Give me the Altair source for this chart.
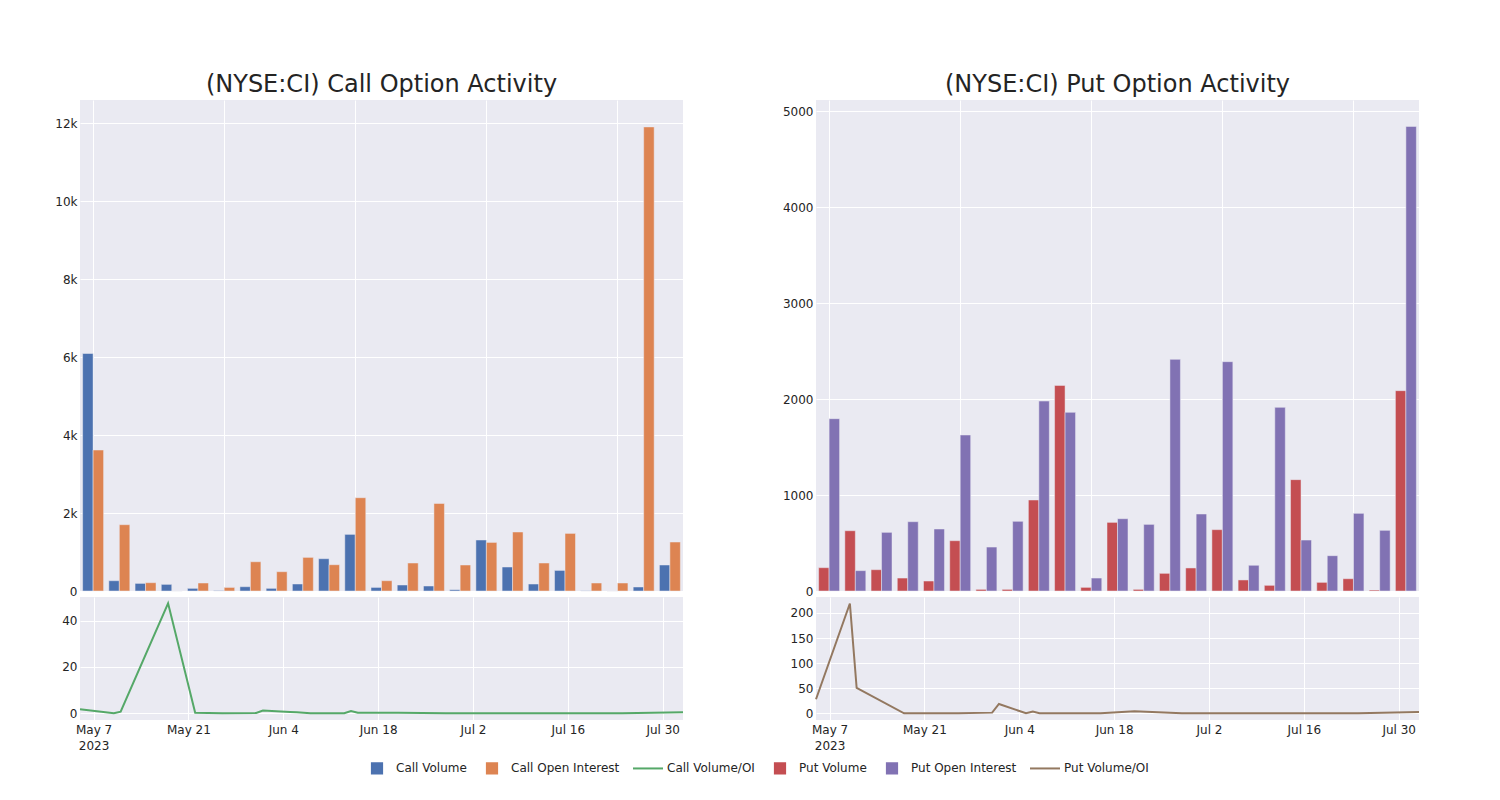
import altair as alt
import pandas as pd

# ---------------- data ----------------
dates = ["2023-05-05", "2023-05-10", "2023-05-11", "2023-05-18", "2023-05-22",
         "2023-05-26", "2023-05-31", "2023-06-01", "2023-06-05", "2023-06-06",
         "2023-06-07", "2023-06-08", "2023-06-13", "2023-06-14", "2023-06-15",
         "2023-06-16", "2023-06-21", "2023-06-28", "2023-07-06", "2023-07-13",
         "2023-07-19", "2023-07-24", "2023-08-02"]

call_volume = [6090, 264, 195, 170, 68, 10, 110, 68, 180, 828, 1452, 92,
               154, 128, 33, 1308, 615, 179, 528, 5, 0, 103, 667]
call_oi = [3615, 1700, 213, 0, 205, 92, 750, 495, 862, 674, 2392, 264,
           718, 2246, 667, 1246, 1513, 718, 1477, 205, 205, 11900, 1256]
put_volume = [243, 628, 222, 135, 104, 524, 17, 17, 948, 2142, 38, 715,
              17, 184, 240, 639, 115, 59, 1160, 90, 128, 10, 2087]
put_oi = [1795, 212, 611, 722, 646, 1625, 458, 726, 1979, 1861, 135, 753,
          694, 2413, 802, 2389, 268, 1913, 531, 368, 809, 632, 4840]
call_ratio = [1.7, 0.0, 0.7, 47.5, 0.2, 0.05, 0.1, 1.15, 0.6, 0.45, 0.2, 0.0,
              0.0, 1.0, 0.2, 0.2, 0.2, 0.0, 0.0, 0.0, 0.0, 0.0, 0.45]
put_ratio = [28, 219, 50.5, 0, 0, 0, 1.3, 18.6, 0, 3.3, 0, 0,
             0, 0, 0, 0, 4, 0, 0, 0, 0, 0, 2.7]

series = ["Call Volume", "Call Open Interest", "Call Volume/OI",
          "Put Volume", "Put Open Interest", "Put Volume/OI"]
colors = ["#4C72B0", "#DD8452", "#55A868", "#C44E52", "#8172B3", "#937860"]
kinds = ["Volume", "Open Interest"]
SQ = "M-0.34,-0.34H0.34V0.34H-0.34Z"
LN = "M-1,-0.34L-1,-0.34M-1,0.34L-1,0.34M-1,0H1"
shapes = [SQ, SQ, LN, SQ, SQ, LN]

tick_dates = ["2023-05-07", "2023-05-21", "2023-06-04", "2023-06-18",
              "2023-07-02", "2023-07-16", "2023-07-30"]


def ms(d):
    return int(pd.Timestamp(d, tz="UTC").timestamp() * 1000)


FONT = "DejaVu Sans"
TXT = "#242424"
BG = "#EAEAF2"
PLOT_W = 603
BAR_H = 491
LINE_H = 123
AX_EXT = 40

# mark colours (reversed order so that this scale's domain differs from the legend scales)
color_scale = alt.Scale(domain=series[::-1], range=colors[::-1])


def bar_panel(title, names, v1, v2, ymax, yticks, ylabel):
    df = pd.DataFrame({
        "date": dates * 2,
        "series": [names[0]] * len(dates) + [names[1]] * len(dates),
        "kind": [kinds[0]] * len(dates) + [kinds[1]] * len(dates),
        "value": v1 + v2,
    })
    return alt.Chart(df, title=alt.Title(title)).mark_bar(
        stroke=BG, strokeWidth=0.5
    ).encode(
        x=alt.X("date:N", sort=dates,
                scale=alt.Scale(paddingInner=0.2, paddingOuter=0.1),
                axis=alt.Axis(values=[dates[i] for i in (0, 5, 10, 15, 20)],
                              labels=False, ticks=False, domain=False,
                              title=None, grid=True, bandPosition=0.5,
                              minExtent=0, maxExtent=0)),
        xOffset=alt.XOffset("kind:N", sort=kinds,
                            scale=alt.Scale(domain=kinds, paddingInner=0,
                                            paddingOuter=0)),
        y=alt.Y("value:Q", scale=alt.Scale(domain=[0, ymax], nice=False),
                axis=alt.Axis(values=yticks, labelExpr=ylabel, title=None,
                              minExtent=AX_EXT, maxExtent=AX_EXT)),
        color=alt.Color("series:N", scale=color_scale, legend=None),
    ).properties(width=PLOT_W, height=BAR_H)


def line_panel(name, vals, ydom, yticks, with_legend=False):
    df = pd.DataFrame({"date": dates, "series": [name] * len(dates),
                       "value": vals})
    x = alt.X("date:T",
              scale=alt.Scale(type="utc", domain=[ms(dates[0]), ms(dates[-1])]),
              axis=alt.Axis(values=[ms(d) for d in tick_dates], title=None,
                            grid=True, labelPadding=4, labelLineHeight=16,
                            labelExpr="utcFormat(datum.value, '%m-%d') == '05-07' ? "
                                      "[utcFormat(datum.value, '%b %-d'), utcFormat(datum.value, '%Y')] : "
                                      "utcFormat(datum.value, '%b %-d')"))
    y = alt.Y("value:Q", scale=alt.Scale(domain=ydom, nice=False, zero=False),
              axis=alt.Axis(values=yticks, title=None,
                            minExtent=AX_EXT, maxExtent=AX_EXT))
    base = alt.Chart(df)
    line = base.mark_line(strokeWidth=2).encode(
        x=x, y=y, color=alt.Color("series:N", scale=color_scale, legend=None))
    if not with_legend:
        return line.properties(width=PLOT_W, height=LINE_H)
    leg = alt.Legend(title=None, orient="none", legendX=281, legendY=652,
                     direction="horizontal", columns=6, padding=0,
                     symbolSize=900, symbolStrokeWidth=2, symbolOpacity=1,
                     labelOffset=3, columnPadding=9, labelFont=FONT,
                     labelFontSize=12, labelColor=TXT)
    pts = base.transform_filter("datum.value < -1000").mark_point(
        filled=True, strokeWidth=2, opacity=1).encode(
        x=x, y=y,
        fill=alt.Fill("series:N", scale=alt.Scale(domain=series, range=colors), legend=leg),
        stroke=alt.Stroke("series:N", scale=alt.Scale(domain=series, range=colors), legend=leg),
        shape=alt.Shape("series:N", scale=alt.Scale(domain=series, range=shapes), legend=leg),
    )
    return alt.layer(line, pts).properties(width=PLOT_W, height=LINE_H)


left = alt.vconcat(
    bar_panel("(NYSE:CI) Call Option Activity", ["Call Volume", "Call Open Interest"],
              call_volume, call_oi, 12590, list(range(0, 12001, 2000)),
              "datum.value == 0 ? '0' : (datum.value / 1000) + 'k'"),
    line_panel("Call Volume/OI", call_ratio, [-2.9, 50.2], [0, 20, 40], with_legend=True),
    spacing=0,
)
right = alt.vconcat(
    bar_panel("(NYSE:CI) Put Option Activity", ["Put Volume", "Put Open Interest"],
              put_volume, put_oi, 5115, list(range(0, 5001, 1000)),
              "format(datum.value, 'd')"),
    line_panel("Put Volume/OI", put_ratio, [-13.4, 231.9], [0, 50, 100, 150, 200]),
    spacing=0,
)

chart = alt.hconcat(left, right, spacing=89).properties(
    padding={"left": 32, "top": 65, "right": 10, "bottom": 10},
    background="white",
).configure_view(
    stroke=None, fill=BG
).configure_axis(
    gridColor="white", gridWidth=1, domain=False, ticks=False,
    labelFont=FONT, labelFontSize=12, labelColor=TXT, labelPadding=3,
).configure_title(
    font=FONT, fontSize=24, fontWeight="normal", color=TXT,
    anchor="middle", offset=3,
)

chart.save("out.html", embed_options={"renderer": "svg", "actions": False})
